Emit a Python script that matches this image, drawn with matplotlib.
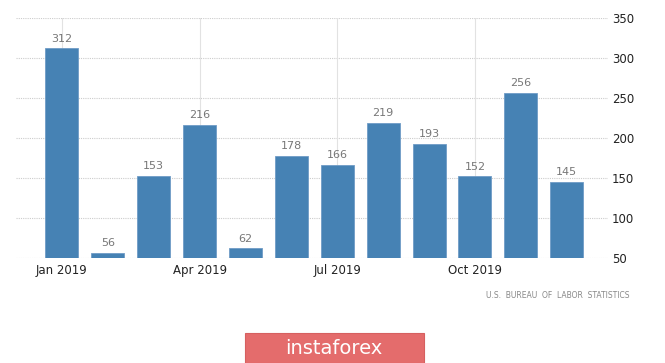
import matplotlib

matplotlib.use("Agg")
import matplotlib.pyplot as plt  # noqa: E402
from matplotlib.patches import Rectangle  # noqa: E402

months = ["Jan", "Feb", "Mar", "Apr", "May", "Jun", "Jul", "Aug", "Sep", "Oct", "Nov", "Dec"]
payrolls = [312, 56, 153, 216, 62, 178, 166, 219, 193, 152, 256, 145]
tick_idx = [0, 3, 6, 9]
tick_labels = ["Jan 2019", "Apr 2019", "Jul 2019", "Oct 2019"]
y_ticks = [50, 100, 150, 200, 250, 300, 350]

W, H = 665, 363
fig = plt.figure(figsize=(W / 100, H / 100), dpi=100)
ax = fig.add_axes([16 / W, 1 - 258 / H, (608 - 16) / W, 240 / H])

x = list(range(len(months)))
ax.bar(x, [v - 50 for v in payrolls], bottom=50, width=0.72,
       color="#4682b4", edgecolor="#6f9cc6", linewidth=0.6, zorder=3)
for xi, v in zip(x, payrolls):
    ax.text(xi, v + 6, str(v), ha="center", va="bottom", fontsize=8, color="#777777", zorder=4)

ax.set_xlim(-1.0, 11.9)
ax.set_ylim(50, 350)
ax.set_yticks(y_ticks)
ax.yaxis.tick_right()
ax.tick_params(axis="y", length=0, pad=3, labelsize=8.5, labelcolor="#222222")
ax.set_xticks(tick_idx)
ax.set_xticklabels(tick_labels)
ax.tick_params(axis="x", length=0, pad=4, labelsize=8.5, labelcolor="#222222")

for yv in y_ticks:
    ax.axhline(yv, color="#cccccc", linewidth=0.8, linestyle=(0, (1, 1)), zorder=1)
for xv in tick_idx:
    ax.axvline(xv, color="#e2e2e2", linewidth=0.8, zorder=1)
for s in ax.spines.values():
    s.set_visible(False)

fig.text(630 / W, 1 - 296 / H, "U.S.  BUREAU  OF  LABOR  STATISTICS", ha="right", va="center",
         fontsize=5.5, color="#888888")

fig.patches.append(Rectangle((245 / W, 0), (424 - 245) / W, 30 / H, transform=fig.transFigure,
                             facecolor="#e46c6c", edgecolor="#d66060", linewidth=0.8))
fig.text(334 / W, 15 / H, "instaforex", ha="center", va="center", fontsize=14,
         color="white")

fig.savefig("out.png", dpi=100)
